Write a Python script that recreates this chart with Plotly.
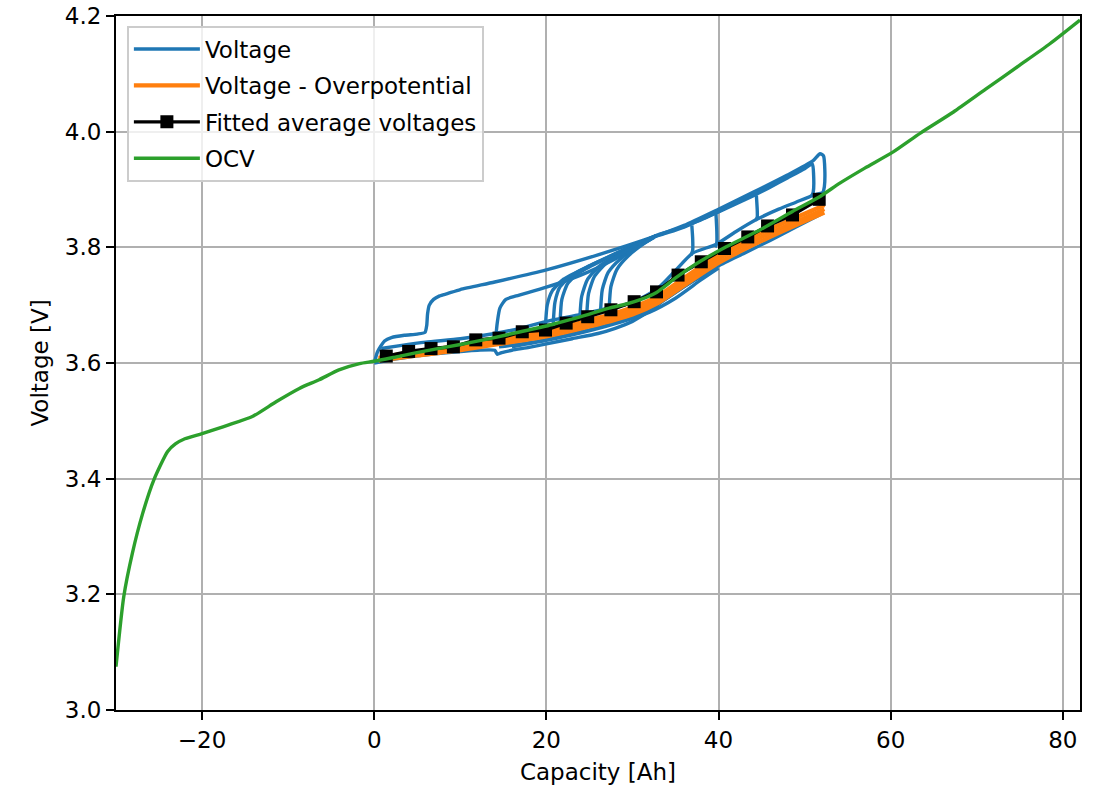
import plotly.graph_objects as go

# ---------------- data ----------------
# OCV curve
ocv_x = [-30.0, -29.1, -28.1, -26.9, -25.6, -24.0, -23.1, -22.0, -20.0, -16.9, -14.1, -11.4,
         -8.7, -6.4, -4.1, -1.7, 0.0, 3.0, 6.0, 10.0, 13.7, 17.0, 20.0, 21.5, 24.0, 27.3,
         29.3, 31.0, 32.8, 35.1, 37.8, 40.9, 44.8, 48.6, 51.7, 54.1, 57.0, 60.3, 63.5,
         67.3, 71.0, 75.0, 78.5, 82.0]
ocv_y = [3.075, 3.196, 3.271, 3.340, 3.398, 3.447, 3.460, 3.469, 3.478, 3.493, 3.508, 3.533,
         3.556, 3.571, 3.588, 3.599, 3.603, 3.612, 3.621, 3.632, 3.643, 3.654, 3.664, 3.670,
         3.680, 3.695, 3.702, 3.710, 3.722, 3.748, 3.775, 3.801, 3.830, 3.862, 3.887, 3.911,
         3.937, 3.965, 3.998, 4.034, 4.073, 4.115, 4.152, 4.193]

# Fitted average voltages
fit_x = [1.4, 4.0, 6.6, 9.2, 11.8, 14.5, 17.2, 19.9, 22.3, 24.8, 27.5, 30.2, 32.8, 35.3,
         38.0, 40.7, 43.4, 45.7, 48.6, 51.7]
fit_y = [3.612, 3.620, 3.625, 3.628, 3.640, 3.643, 3.654, 3.657, 3.669, 3.680, 3.692, 3.706,
         3.723, 3.752, 3.775, 3.798, 3.818, 3.837, 3.856, 3.883]

# Voltage - Overpotential (band of pulse estimates under the fitted points)
ovp_x = [0.5, 5.0, 10.0, 15.0, 20.0, 25.0, 30.0, 33.0, 36.0, 40.0, 45.0, 50.0, 52.3]
ovp_hi_y = [3.609, 3.620, 3.630, 3.644, 3.656, 3.674, 3.696, 3.716, 3.747, 3.787, 3.825, 3.858, 3.873]
ovp_mid_y = [3.606, 3.616, 3.626, 3.639, 3.651, 3.669, 3.690, 3.710, 3.740, 3.780, 3.818, 3.851, 3.866]
ovp_lo_y = [3.604, 3.613, 3.622, 3.634, 3.646, 3.663, 3.684, 3.704, 3.734, 3.773, 3.811, 3.845, 3.860]

# Voltage: individual branches of the measured curve
v_first_x = [0.0, 0.4, 1.2, 2.0, 3.5, 5.0, 5.9, 6.1, 6.2, 6.4, 6.9, 7.6, 8.5, 10.0, 14.0,
             20.0, 26.0, 32.4, 36.0, 40.0, 44.0, 48.0, 51.0, 51.8, 52.2, 52.35, 52.3, 52.1]
v_first_y = [3.600, 3.620, 3.638, 3.644, 3.648, 3.650, 3.653, 3.665, 3.685, 3.700, 3.710,
             3.716, 3.720, 3.727, 3.740, 3.761, 3.787, 3.818, 3.838, 3.866, 3.895, 3.925,
             3.950, 3.962, 3.958, 3.935, 3.905, 3.892]
v_second_x = [14.1, 14.3, 14.6, 15.3, 16.5, 20.0, 24.0, 28.0, 32.5]
v_second_y = [3.640, 3.670, 3.695, 3.710, 3.716, 3.731, 3.752, 3.780, 3.817]
v_fan_a_x = [19.9, 20.1, 20.7, 22.0, 25.0, 29.0, 32.5]
v_fan_a_y = [3.665, 3.700, 3.725, 3.745, 3.768, 3.795, 3.818]
v_fan_b_x = [20.8, 21.0, 21.6, 23.0, 26.0, 29.5, 32.5]
v_fan_b_y = [3.668, 3.705, 3.732, 3.752, 3.775, 3.799, 3.818]
v_fan_c_x = [21.6, 21.8, 22.5, 24.0, 27.0, 30.0, 32.6]
v_fan_c_y = [3.672, 3.710, 3.738, 3.758, 3.781, 3.802, 3.819]
v_fan_d_x = [23.9, 24.1, 24.8, 26.2, 29.0, 32.7]
v_fan_d_y = [3.680, 3.715, 3.745, 3.768, 3.792, 3.820]
v_fan_e_x = [24.7, 24.9, 25.6, 27.0, 29.5, 32.8]
v_fan_e_y = [3.684, 3.720, 3.750, 3.773, 3.795, 3.821]
v_fan_f_x = [26.3, 26.5, 27.2, 28.6, 30.5, 33.0]
v_fan_f_y = [3.690, 3.727, 3.757, 3.780, 3.800, 3.822]
v_fan_g_x = [27.3, 27.5, 28.2, 29.5, 31.2, 33.0]
v_fan_g_y = [3.695, 3.732, 3.762, 3.785, 3.805, 3.822]
v_upper_x = [32.5, 34.0, 36.0, 38.0, 40.0, 42.0, 44.0, 46.0, 48.0, 50.0, 50.9, 51.05, 51.0, 50.8]
v_upper_y = [3.818, 3.825, 3.835, 3.848, 3.861, 3.875, 3.889, 3.904, 3.920, 3.936, 3.944,
             3.925, 3.895, 3.888]
v_upper2_x = [33.0, 36.0, 40.0, 44.0, 48.0, 50.0]
v_upper2_y = [3.822, 3.836, 3.862, 3.892, 3.922, 3.940]
v_drop1_x = [36.9, 37.0, 37.0, 36.8]
v_drop1_y = [3.838, 3.815, 3.795, 3.786]
v_drop2_x = [39.7, 39.8, 39.8, 39.6]
v_drop2_y = [3.859, 3.830, 3.808, 3.800]
v_drop3_x = [44.4, 44.5, 44.5, 44.3]
v_drop3_y = [3.890, 3.865, 3.852, 3.846]
v_relax_x = [29.0, 31.0, 33.0, 35.0, 37.0, 39.7, 42.0, 44.4, 47.0, 49.0, 51.0, 52.3]
v_relax_y = [3.700, 3.712, 3.730, 3.760, 3.790, 3.805, 3.827, 3.848, 3.866, 3.878, 3.890, 3.895]
v_near_x = [0.8, 3.0, 6.0, 10.0, 14.0, 17.0, 20.0, 24.0, 28.0]
v_near_y = [3.625, 3.630, 3.636, 3.642, 3.651, 3.660, 3.672, 3.684, 3.698]
v_low1_x = [0.0, 3.0, 8.0, 12.0, 14.0, 14.3, 14.8, 16.0, 18.0, 20.0, 23.0, 26.0, 28.0, 30.0,
            32.0, 34.0, 36.0, 38.0, 40.0, 43.0, 46.0, 49.0, 52.0]
v_low1_y = [3.600, 3.608, 3.617, 3.622, 3.622, 3.615, 3.618, 3.622, 3.627, 3.633, 3.642,
            3.651, 3.660, 3.672, 3.690, 3.712, 3.732, 3.750, 3.768, 3.790, 3.812, 3.835, 3.858]
v_low2_x = [14.5, 18.0, 22.0, 26.0, 30.0, 34.0, 38.0, 42.0]
v_low2_y = [3.628, 3.635, 3.647, 3.661, 3.680, 3.712, 3.752, 3.786]
v_low3_x = [16.0, 20.0, 24.0, 28.0, 32.0, 35.0, 38.0, 40.0]
v_low3_y = [3.628, 3.639, 3.652, 3.668, 3.688, 3.712, 3.744, 3.764]

voltage_branches = [
    (v_first_x, v_first_y), (v_second_x, v_second_y),
    (v_fan_a_x, v_fan_a_y), (v_fan_b_x, v_fan_b_y), (v_fan_c_x, v_fan_c_y),
    (v_fan_d_x, v_fan_d_y), (v_fan_e_x, v_fan_e_y), (v_fan_f_x, v_fan_f_y),
    (v_fan_g_x, v_fan_g_y), (v_upper_x, v_upper_y), (v_upper2_x, v_upper2_y),
    (v_drop1_x, v_drop1_y), (v_drop2_x, v_drop2_y), (v_drop3_x, v_drop3_y),
    (v_relax_x, v_relax_y), (v_near_x, v_near_y),
    (v_low1_x, v_low1_y), (v_low2_x, v_low2_y), (v_low3_x, v_low3_y),
]
overpotential_branches = [(ovp_x, ovp_hi_y), (ovp_x, ovp_mid_y), (ovp_x, ovp_lo_y)]

x_ticks = [-20, 0, 20, 40, 60, 80]
y_ticks = [3.0, 3.2, 3.4, 3.6, 3.8, 4.0, 4.2]

# ---------------- figure ----------------
BLUE = "#1f77b4"
ORANGE = "#ff7f0e"
GREEN = "#2ca02c"
FONT = "DejaVu Sans"
FS = 23


def join(branches):
    xs, ys = [], []
    for bx, by in branches:
        xs += list(bx) + [None]
        ys += list(by) + [None]
    return xs, ys


vx, vy = join(voltage_branches)
ox, oy = join(overpotential_branches)

fig = go.Figure()
fig.add_trace(go.Scatter(x=vx, y=vy, mode="lines", name="Voltage", legendgroup="a",
                         line=dict(color=BLUE, width=3.4, shape="spline", smoothing=0.6),
                         connectgaps=False))
fig.add_trace(go.Scatter(x=ox, y=oy, mode="lines", name="Voltage - Overpotential", legendgroup="b",
                         line=dict(color=ORANGE, width=4.2, shape="spline", smoothing=0.6),
                         connectgaps=False))
fig.add_trace(go.Scatter(x=fit_x, y=fit_y, mode="lines+markers", name="Fitted average voltages",
                         legendgroup="c",
                         line=dict(color="black", width=3.4),
                         marker=dict(symbol="square", size=13, color="black")))
fig.add_trace(go.Scatter(x=ocv_x, y=ocv_y, mode="lines", name="OCV", legendgroup="d",
                         line=dict(color=GREEN, width=3.4, shape="spline", smoothing=0.6)))

axis_common = dict(
    showgrid=True, gridcolor="#b0b0b0", gridwidth=1.9,
    showline=True, linecolor="black", linewidth=1.9, mirror=True,
    ticks="outside", ticklen=8, tickwidth=1.9, tickcolor="black",
    zeroline=False, automargin=False,
    tickfont=dict(family=FONT, size=FS, color="black"),
)

fig.update_layout(
    width=1101, height=786,
    margin=dict(l=116, r=21, t=16, b=76, autoexpand=False),
    paper_bgcolor="white", plot_bgcolor="white",
    font=dict(family=FONT, size=FS, color="black"),
    showlegend=True,
    legend=dict(x=0.0114, y=0.986, xanchor="left", yanchor="top",
                bgcolor="rgba(255,255,255,0.8)", bordercolor="#cccccc", borderwidth=1.9,
                itemwidth=66, tracegroupgap=3.5, traceorder="grouped",
                font=dict(family=FONT, size=FS, color="black")),
    xaxis=dict(range=[-30, 82], tickvals=x_ticks,
               title=dict(text="Capacity [Ah]", font=dict(family=FONT, size=FS, color="black"),
                          standoff=12),
               **axis_common),
    yaxis=dict(range=[3.0, 4.2], tickvals=y_ticks, tickformat=".1f",
               title=dict(text="Voltage [V]", font=dict(family=FONT, size=FS, color="black"),
                          standoff=10),
               **axis_common),
)

fig.write_html("out.html", config={"displayModeBar": False},
               post_script="document.body.style.margin='0';document.body.style.overflow='hidden';")
